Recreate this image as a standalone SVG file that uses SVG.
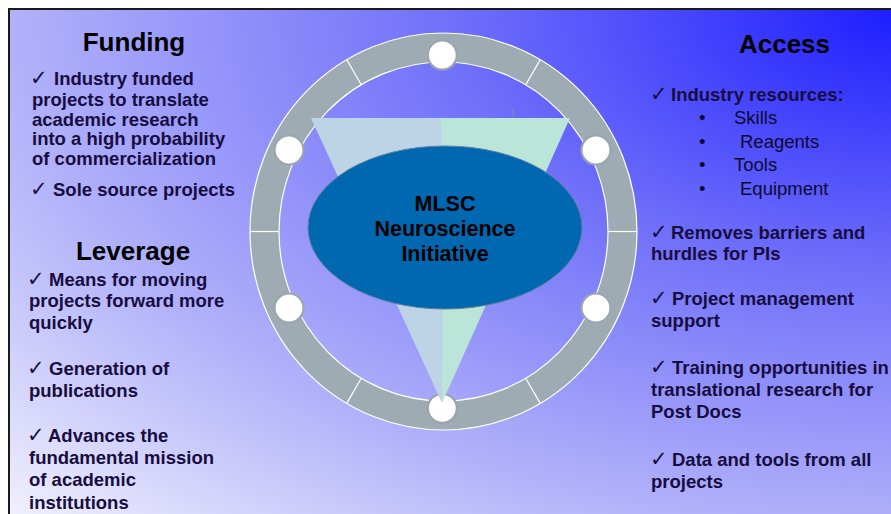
<svg xmlns="http://www.w3.org/2000/svg" width="891" height="514" viewBox="0 0 891 514">
<defs>
<radialGradient id="bg" gradientUnits="objectBoundingBox" cx="1" cy="0" r="1.414" fx="1" fy="0">
<stop offset="0" stop-color="#1c1cff"/>
<stop offset="0.36" stop-color="#7070fa"/>
<stop offset="0.707" stop-color="#b2b2fa"/>
<stop offset="1" stop-color="#f3f3fd"/>
</radialGradient>
<style>
.h{font-family:"Liberation Sans",Arial,sans-serif;font-weight:bold;font-size:26px;fill:#000;text-anchor:middle}
.b{font-family:"Liberation Sans",Arial,sans-serif;font-weight:bold;font-size:18.5px;fill:#170d40}
.r{font-family:"Liberation Sans",Arial,sans-serif;font-size:18.5px;fill:#0d0a30}
.ck{font-family:"DejaVu Sans",sans-serif;font-weight:bold;font-size:21px}
.c{font-family:"Liberation Sans",Arial,sans-serif;font-weight:bold;font-size:21.5px;fill:#000;text-anchor:middle}
.dot{fill:#fff;stroke:#9aa6ae;stroke-width:2.2}
.div{stroke:#fff;stroke-width:1.2}
</style>
</defs>
<rect x="0" y="0" width="891" height="514" fill="#fff"/>
<rect x="9" y="9" width="900" height="520" fill="url(#bg)" stroke="#1a1a1a" stroke-width="2"/>

<g id="ring">
<ellipse cx="443.5" cy="231.5" rx="179" ry="184" fill="none" stroke="#9eabb3" stroke-width="29"/>
<ellipse cx="443.5" cy="231.5" rx="193.5" ry="198.5" fill="none" stroke="#fff" stroke-width="1.2"/>
<ellipse cx="443.5" cy="231.5" rx="164.5" ry="169.5" fill="none" stroke="#fff" stroke-width="1.2"/>
<line class="div" x1="608" y1="231.5" x2="637" y2="231.5"/>
<line class="div" x1="279" y1="231.5" x2="250" y2="231.5"/>
<line class="div" x1="525.75" y1="84.7" x2="540.25" y2="59.6"/>
<line class="div" x1="361.25" y1="84.7" x2="346.75" y2="59.6"/>
<line class="div" x1="361.25" y1="378.3" x2="346.75" y2="403.4"/>
<line class="div" x1="525.75" y1="378.3" x2="540.25" y2="403.4"/>
</g>
<g id="dots">
<circle class="dot" cx="442.3" cy="55" r="14.5"/>
<circle class="dot" cx="442.3" cy="408.3" r="14.5"/>
<circle class="dot" cx="289" cy="150" r="14.5"/>
<circle class="dot" cx="596" cy="150" r="14.5"/>
<circle class="dot" cx="289" cy="308" r="14.5"/>
<circle class="dot" cx="596" cy="308" r="14.5"/>
</g>
<g id="funnel">
<polygon points="311,118 441,118 442,403" fill="#bdd4e6"/>
<polygon points="441,118 570,118 442,403" fill="#bae5d8"/>
<line x1="513" y1="109" x2="513" y2="118" stroke="#8a96a0" stroke-width="0.8"/>
</g>
<g id="center">
<ellipse cx="445" cy="227.5" rx="137" ry="81.5" fill="#0067b1" stroke="#5f7f9c" stroke-width="1"/>
<text class="c" x="445" y="210.5">MLSC</text>
<text class="c" x="445" y="235.5">Neuroscience</text>
<text class="c" x="445" y="260.5">Initiative</text>
</g>

<g id="funding">
<text class="h" x="134" y="51">Funding</text>
<text class="b" x="30" y="85"><tspan class="ck">✓</tspan><tspan x="54">Industry funded</tspan></text>
<text class="b" x="32" y="105.5">projects to translate</text>
<text class="b" x="32" y="125.5">academic research</text>
<text class="b" x="32" y="145">into a high probability</text>
<text class="b" x="32" y="164.5">of commercialization</text>
<text class="b" x="30" y="196"><tspan class="ck">✓</tspan><tspan x="53">Sole source projects</tspan></text>
</g>
<g id="leverage">
<text class="h" x="133" y="259.5">Leverage</text>
<text class="b" x="27" y="285.5"><tspan class="ck">✓</tspan><tspan x="49">Means for moving</tspan></text>
<text class="b" x="29" y="307">projects forward more</text>
<text class="b" x="29" y="328.5">quickly</text>
<text class="b" x="27" y="375"><tspan class="ck">✓</tspan><tspan x="49">Generation of</tspan></text>
<text class="b" x="29" y="396.5">publications</text>
<text class="b" x="27" y="442"><tspan class="ck">✓</tspan><tspan x="48">Advances the</tspan></text>
<text class="b" x="29" y="463.5">fundamental mission</text>
<text class="b" x="29" y="486">of academic</text>
<text class="b" x="29" y="508.5">institutions</text>
</g>
<g id="access">
<text class="h" x="784.5" y="53">Access</text>
<text class="b" x="650" y="101"><tspan class="ck">✓</tspan><tspan x="671">Industry resources:</tspan></text>
<text class="r" x="699" y="124">•</text><text class="r" x="734" y="124">Skills</text>
<text class="r" x="699" y="148.3">•</text><text class="r" x="740" y="148.3">Reagents</text>
<text class="r" x="699" y="171">•</text><text class="r" x="734" y="171">Tools</text>
<text class="r" x="699" y="195">•</text><text class="r" x="740" y="195">Equipment</text>
<text class="b" x="650" y="239.3"><tspan class="ck">✓</tspan><tspan x="671">Removes barriers and</tspan></text>
<text class="b" x="651" y="260">hurdles for PIs</text>
<text class="b" x="650" y="304.5"><tspan class="ck">✓</tspan><tspan x="672">Project management</tspan></text>
<text class="b" x="651" y="326.5">support</text>
<text class="b" x="650" y="373.5"><tspan class="ck">✓</tspan><tspan x="672">Training opportunities in</tspan></text>
<text class="b" x="651" y="395.5">translational research for</text>
<text class="b" x="651" y="417.5">Post Docs</text>
<text class="b" x="650" y="466"><tspan class="ck">✓</tspan><tspan x="672">Data and tools from all</tspan></text>
<text class="b" x="651" y="488">projects</text>
</g>
</svg>
